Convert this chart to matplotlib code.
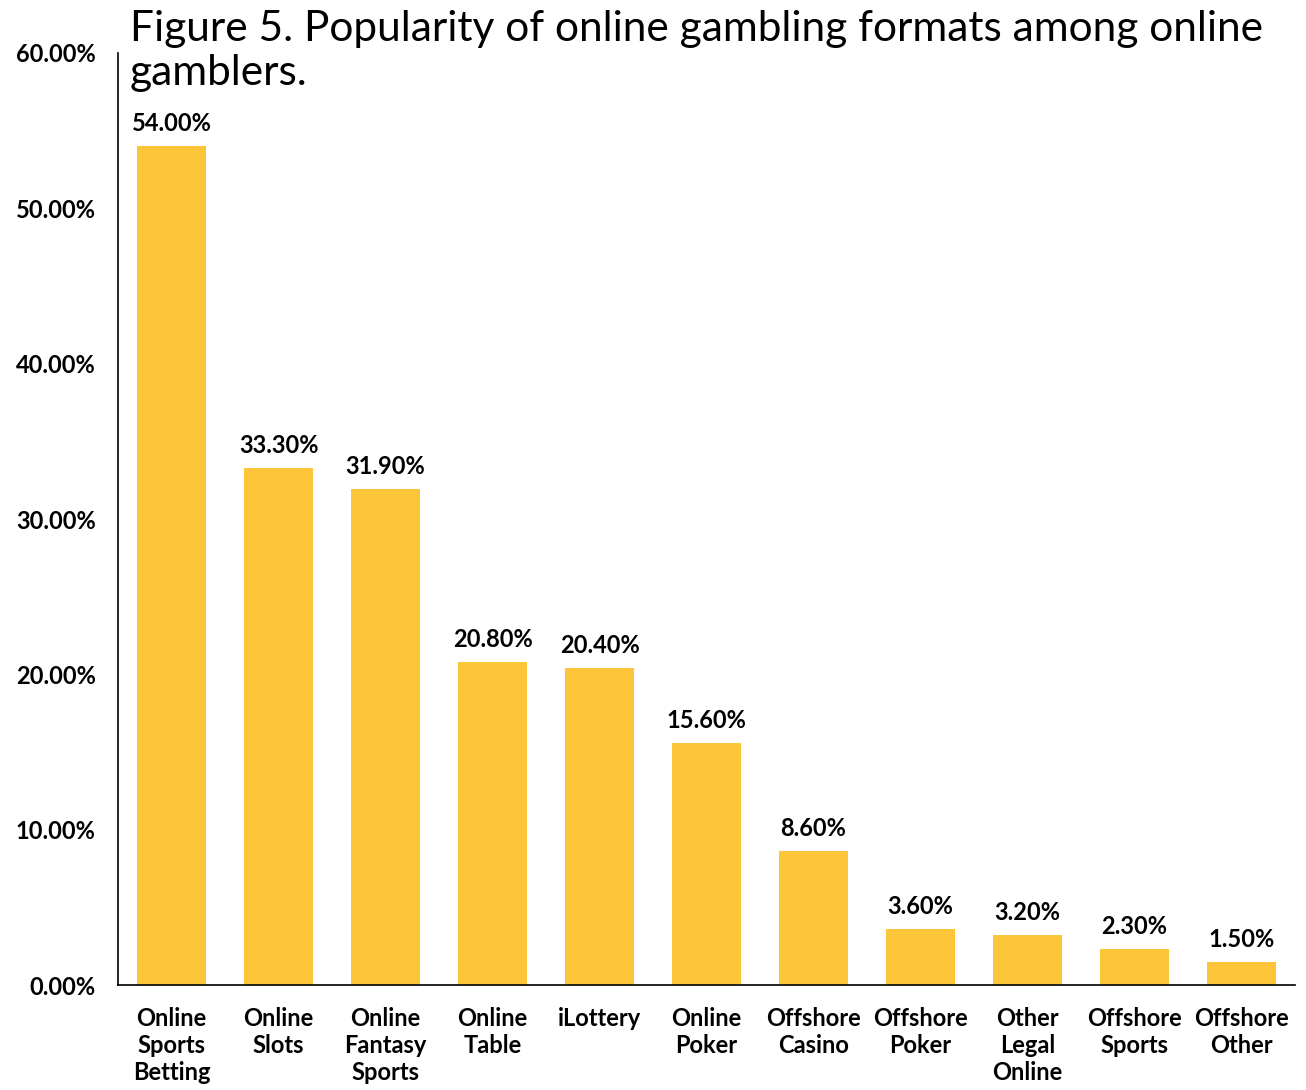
import matplotlib.pyplot as plt
from matplotlib.ticker import FuncFormatter

# Share of online gamblers using each format (%)
formats = ['Online\nSports\nBetting', 'Online\nSlots', 'Online\nFantasy\nSports',
           'Online\nTable', 'iLottery', 'Online\nPoker', 'Offshore\nCasino',
           'Offshore\nPoker', 'Other\nLegal\nOnline', 'Offshore\nSports',
           'Offshore\nOther']
share = [54.0, 33.3, 31.9, 20.8, 20.4, 15.6, 8.6, 3.6, 3.2, 2.3, 1.5]
yticks = [0, 10, 20, 30, 40, 50, 60]

plt.rcParams['font.family'] = ['Lato', 'DejaVu Sans']

fig = plt.figure(figsize=(13.06, 10.90), dpi=100)
ax = fig.add_axes([0.0904, 0.0963, 0.9012, 0.8551])

x = range(len(formats))
bars = ax.bar(x, share, width=0.64, color='#FDC63A')

for b, v in zip(bars, share):
    ax.annotate(f'{v:.2f}%', (b.get_x() + b.get_width() / 2, v),
                xytext=(0, 8), textcoords='offset points',
                ha='center', va='bottom', fontsize=17, fontweight='bold')

ax.set_xlim(-0.5, len(formats) - 0.5)
ax.set_ylim(0, 60)
ax.set_yticks(yticks)
ax.yaxis.set_major_formatter(FuncFormatter(lambda v, p: f'{v:.2f}%'))
ax.set_xticks(list(x))
ax.set_xticklabels(formats, fontsize=17, fontweight='bold', linespacing=1.2)
ax.tick_params(axis='y', length=0, pad=16, labelsize=17)
ax.tick_params(axis='x', length=0, pad=16)
for lbl in ax.get_yticklabels():
    lbl.set_fontweight('bold')

ax.spines['top'].set_visible(False)
ax.spines['right'].set_visible(False)
ax.spines['left'].set_linewidth(1.2)
ax.spines['bottom'].set_linewidth(1.2)

fig.text(0.0995, 0.991,
         'Figure 5. Popularity of online gambling formats among online\ngamblers.',
         ha='left', va='top', fontsize=30.5, linespacing=1.2)

fig.savefig('out.png', dpi=100)
